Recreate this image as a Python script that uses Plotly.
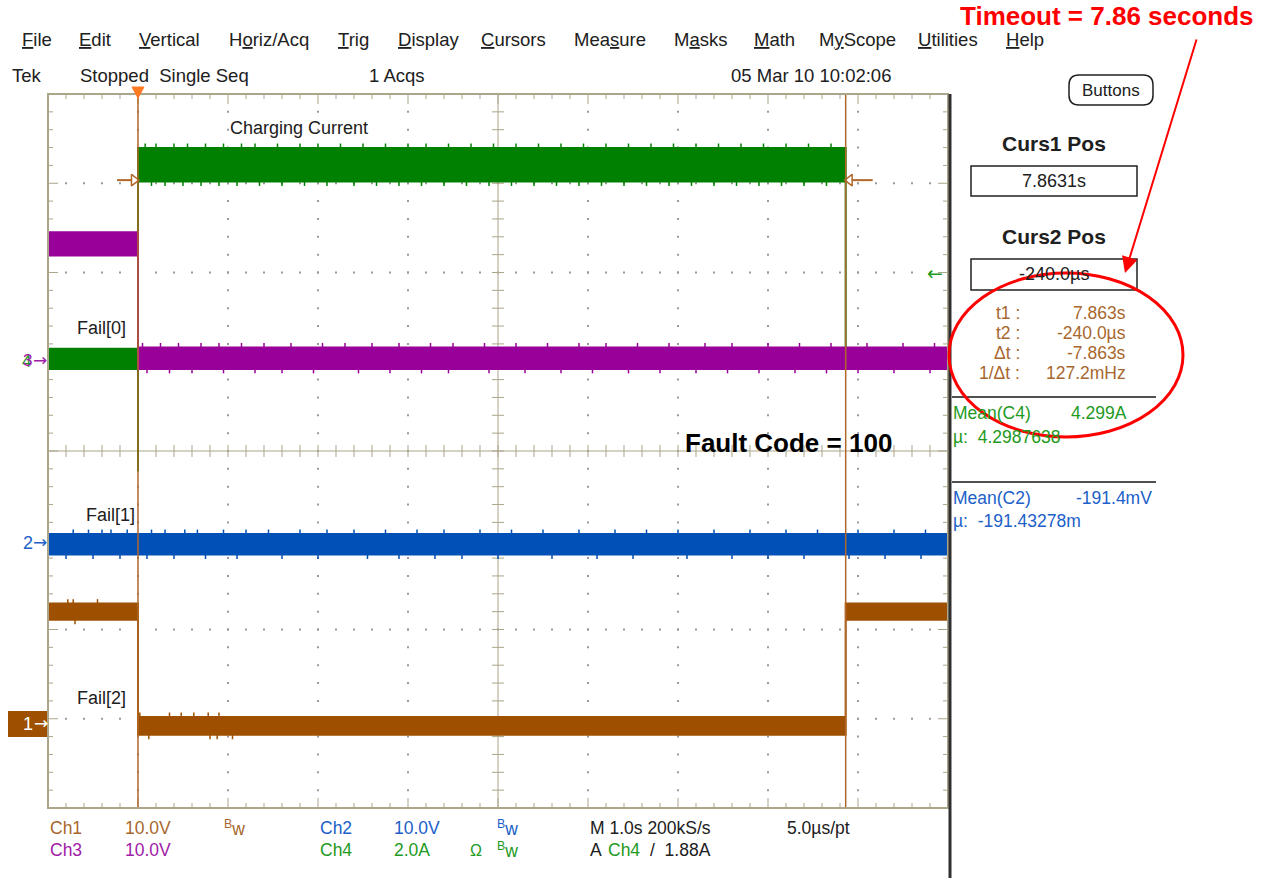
import plotly.graph_objects as go
import numpy as np

# ---------------- data ----------------
time_range = [-1.0, 9.0]            # seconds, M 1.0 s/div, trigger at 1 div
div_range = [-4.0, 4.0]             # vertical divisions
cursor1_t = 7.8631                  # Curs1 Pos
cursor2_t = -0.00024                # Curs2 Pos
trigger_t = 0.0

ch_scale = {"Ch1": 10.0, "Ch2": 10.0, "Ch3": 10.0, "Ch4": 2.0}     # per div
ch_offset = {"Ch1": -3.05, "Ch2": -1.03, "Ch3": 1.02, "Ch4": 1.02}  # ground, div

# Ch1  Fail[2]  (V)
ch1_edges = [-1.0, 0.0, 7.863, 9.0]
ch1_max = [13.4, 0.7, 13.4]
ch1_min = [11.6, -1.3, 11.6]
ch1_spike_top_t = [-0.78, -0.72, -0.45, 0.02, 0.35, 0.48, 0.62, 0.78, 0.9]
ch1_spike_bot_t = [-0.7, 0.12, 0.8, 0.88, 1.05]
ch1_spike = 0.5                     # V
# Ch2  Fail[1]  (V)
ch2_edges = [-1.0, 9.0]
ch2_max = [1.0]
ch2_min = [-1.3]
ch2_spike_top_t = [-0.72, -0.55, -0.4, -0.3, -0.12, 0.15, 0.3, 0.52, 0.66, 0.95, 1.2,
                   1.45, 1.8, 2.1, 2.4, 2.75, 3.1, 3.4, 3.8, 4.15, 4.5, 4.9, 5.3,
                   5.65, 6.0, 6.4, 6.8, 7.2, 7.55, 8.0, 8.4, 8.75]
ch2_spike_bot_t = [-0.8, -0.5, -0.2, 0.1, 0.4, 0.75, 1.1, 1.6, 2.0, 2.55, 2.9, 3.3,
                   3.6, 4.0, 4.6, 5.1, 5.5, 6.1, 6.6, 7.0, 7.4, 7.9, 8.3, 8.7]
ch2_spike = 0.5
# Ch3  Fail[0]  (V)
ch3_edges = [-1.0, 0.0, 9.0]
ch3_max = [14.3, 1.4]
ch3_min = [11.7, -1.0]
ch3_spike_top_t = [0.05, 0.25, 0.45, 0.7, 0.9, 1.15, 1.4, 1.7, 2.05, 2.3, 2.6, 2.9,
                   3.25, 3.5, 3.85, 4.2, 4.55, 4.9, 5.2, 5.55, 5.9, 6.3, 6.6, 7.0,
                   7.35, 7.7, 8.1, 8.5, 8.85]
ch3_spike_bot_t = [0.1, 0.35, 0.6, 0.95, 1.3, 1.6, 1.95, 2.45, 2.8, 3.15, 3.45, 3.9,
                   4.3, 4.7, 5.05, 5.45, 5.8, 6.2, 6.55, 6.9, 7.3, 7.65, 8.0, 8.4, 8.8]
ch3_spike = 0.5
# Ch4  Charging Current (A)
ch4_edges = [-1.0, 0.0, 7.863, 9.0]
ch4_max = [0.25, 4.75, 0.25]
ch4_min = [-0.2, 4.0, -0.2]
ch4_spike_top_t = [0.08, 0.2, 0.4, 0.55, 0.75, 0.95, 1.15, 1.3, 1.55, 1.8, 2.0, 2.25,
                   2.5, 2.75, 3.0, 3.2, 3.45, 3.7, 3.95, 4.2, 4.45, 4.7, 4.95, 5.2,
                   5.45, 5.7, 5.95, 6.2, 6.45, 6.7, 6.95, 7.2, 7.45, 7.7]
ch4_spike_bot_t = [0.15, 0.3, 0.5, 0.7, 0.9, 1.1, 1.35, 1.6, 1.85, 2.1, 2.4, 2.65,
                   2.9, 3.15, 3.4, 3.65, 3.9, 4.15, 4.4, 4.65, 4.9, 5.15, 5.4, 5.65,
                   5.9, 6.15, 6.4, 6.65, 6.9, 7.15, 7.4, 7.65]
ch4_spike = 0.1                     # A
ch4_glitch_t = 0.0
ch4_glitch_lo = -2.5
ch4_glitch_hi = 4.4
cursor_mark_level = 4.03            # A, where cursor markers sit on Ch4

# ---------------- styling ----------------
BROWN = "#9e5000"
BROWN_TXT = "#a8672e"
PURPLE = "#990099"
PURPLE_TXT = "#a020a8"
BLUE = "#0050b8"
BLUE_TXT = "#2060c8"
GREEN = "#008000"
GREEN_TXT = "#1e9a1e"
GRID = "#aba58a"
DOT = "#9a9a9a"
UI = "Liberation Sans, Arial, sans-serif"
BOLDF = "Liberation Sans, Arial, sans-serif"
SYM = "DejaVu Sans, sans-serif"

L, T, W, H = 48, 94, 900, 714
XPD = W / (time_range[1] - time_range[0])   # px per second
YPD = H / (div_range[1] - div_range[0])     # px per div


def PX(x):
    return (x - L) / W


def PY(y):
    return (T + H - y) / H


def to_div(v, ch):
    return v / ch_scale[ch] + ch_offset[ch]


def band(edges, mx, mn, ch):
    xs, ys = [], []
    for i in range(len(mx)):
        xs += [edges[i], edges[i + 1]]
        ys += [to_div(mx[i], ch)] * 2
    lx, ly = [], []
    for i in range(len(mn)):
        lx += [edges[i], edges[i + 1]]
        ly += [to_div(mn[i], ch)] * 2
    return xs + lx[::-1] + [xs[0]], ys + ly[::-1] + [ys[0]]


def level_at(t, edges, vals):
    for i in range(len(vals)):
        if edges[i] <= t <= edges[i + 1]:
            return vals[i]
    return vals[-1]


fig = go.Figure()

# ---------------- graticule ----------------
gx, gy = [], []
minor_x = np.round(np.arange(time_range[0], time_range[1] + 1e-9, 0.2), 3)
minor_y = np.round(np.arange(div_range[0], div_range[1] + 1e-9, 0.2), 3)
cx = (time_range[0] + time_range[1]) / 2
for xv in range(int(time_range[0]) + 1, int(time_range[1])):
    if abs(xv - cx) < 1e-9:
        continue
    for yv in minor_y[1:-1]:
        gx.append(xv); gy.append(yv)
for yv in range(int(div_range[0]) + 1, int(div_range[1])):
    if yv == 0:
        continue
    for xv in minor_x[1:-1]:
        gx.append(xv); gy.append(yv)
fig.add_trace(go.Scatter(x=gx, y=gy, mode="markers", hoverinfo="skip",
                         marker=dict(symbol="square", size=2, color=DOT),
                         showlegend=False))

tx, ty = [], []
tx += [time_range[0], time_range[1], None, cx, cx, None]
ty += [0, 0, None, div_range[0], div_range[1], None]
tl_x = 6 / XPD
tl_y = 6 / YPD
for xv in minor_x:
    tx += [xv, xv, None]; ty += [-tl_y, tl_y, None]
for yv in minor_y:
    tx += [cx - tl_x, cx + tl_x, None]; ty += [yv, yv, None]
for xv in minor_x:
    major = abs(xv - round(xv)) < 1e-6
    ln = (10 if major else 5) / YPD
    tx += [xv, xv, None, xv, xv, None]
    ty += [div_range[1], div_range[1] - ln, None, div_range[0], div_range[0] + ln, None]
for yv in minor_y:
    major = abs(yv - round(yv)) < 1e-6
    ln = (10 if major else 5) / XPD
    tx += [time_range[0], time_range[0] + ln, None, time_range[1], time_range[1] - ln, None]
    ty += [yv, yv, None, yv, yv, None]
fig.add_trace(go.Scatter(x=tx, y=ty, mode="lines", hoverinfo="skip",
                         line=dict(color=GRID, width=1), showlegend=False))


# ---------------- waveforms ----------------
def add_band(edges, mx, mn, ch, color, top_t, bot_t, spike):
    bx, by = band(edges, mx, mn, ch)
    fig.add_trace(go.Scatter(x=bx, y=by, mode="lines", fill="toself",
                             fillcolor=color, line=dict(color=color, width=2),
                             hoverinfo="skip", showlegend=False))
    sx, sy = [], []
    for t in top_t:
        v = level_at(t, edges, mx)
        sx += [t, t, None]; sy += [to_div(v, ch), to_div(v + spike, ch), None]
    for t in bot_t:
        v = level_at(t, edges, mn)
        sx += [t, t, None]; sy += [to_div(v, ch), to_div(v - spike, ch), None]
    fig.add_trace(go.Scatter(x=sx, y=sy, mode="lines", line=dict(color=color, width=1.5),
                             hoverinfo="skip", showlegend=False))


add_band(ch1_edges, ch1_max, ch1_min, "Ch1", BROWN, ch1_spike_top_t, ch1_spike_bot_t, ch1_spike)
add_band(ch2_edges, ch2_max, ch2_min, "Ch2", BLUE, ch2_spike_top_t, ch2_spike_bot_t, ch2_spike)
add_band(ch4_edges, ch4_max, ch4_min, "Ch4", GREEN, ch4_spike_top_t, ch4_spike_bot_t, ch4_spike)
fig.add_trace(go.Scatter(x=[ch4_glitch_t, ch4_glitch_t],
                         y=[to_div(ch4_glitch_lo, "Ch4"), to_div(ch4_glitch_hi, "Ch4")],
                         mode="lines", line=dict(color=GREEN, width=2),
                         hoverinfo="skip", showlegend=False))
add_band(ch3_edges, ch3_max, ch3_min, "Ch3", PURPLE, ch3_spike_top_t, ch3_spike_bot_t, ch3_spike)

# ---------------- cursors ----------------
CUR = "#b0682a"
for ct in (cursor1_t, cursor2_t):
    fig.add_trace(go.Scatter(x=[ct, ct], y=div_range, mode="lines",
                             line=dict(color=CUR, width=1.5),
                             hoverinfo="skip", showlegend=False))
my = to_div(cursor_mark_level, "Ch4")
fig.add_trace(go.Scatter(x=[cursor2_t - 21 / XPD, cursor2_t - 6 / XPD], y=[my, my],
                         mode="lines", line=dict(color=CUR, width=2),
                         hoverinfo="skip", showlegend=False))
fig.add_trace(go.Scatter(x=[cursor1_t + 6 / XPD, cursor1_t + 27 / XPD], y=[my, my],
                         mode="lines", line=dict(color=CUR, width=2),
                         hoverinfo="skip", showlegend=False))
fig.add_trace(go.Scatter(x=[cursor2_t - 4 / XPD, cursor1_t + 4 / XPD], y=[my, my],
                         mode="markers", cliponaxis=False,
                         marker=dict(symbol=["triangle-right-open", "triangle-left-open"],
                                     size=10, color=CUR, line=dict(width=1.5)),
                         hoverinfo="skip", showlegend=False))

# ---------------- text ----------------
ann = []


def text(s, x, y, color="#202020", size=17.5, anchor="left", family=UI, bold=False):
    if bold:
        s = "<b>" + s + "</b>"
    ann.append(dict(text=s, x=PX(x), y=PY(y), xref="paper", yref="paper",
                    xanchor=anchor, yanchor="middle", showarrow=False,
                    font=dict(color=color, size=size, family=family)))


menu = [("<u>F</u>ile", 20), ("<u>E</u>dit", 77), ("<u>V</u>ertical", 137),
        ("H<u>o</u>riz/Acq", 227), ("<u>T</u>rig", 336), ("<u>D</u>isplay", 396),
        ("<u>C</u>ursors", 479), ("Mea<u>s</u>ure", 572), ("M<u>a</u>sks", 672),
        ("<u>M</u>ath", 752), ("M<u>y</u>Scope", 817), ("<u>U</u>tilities", 916),
        ("<u>H</u>elp", 1004)]
for s, x in menu:
    text(s, x, 39, size=18.5)

text("Tek", 10, 75, size=18.5)
text("Stopped  Single Seq", 78, 75, size=18.5)
text("1 Acqs", 367, 75, size=18.5)
text("05 Mar 10 10:02:06", 893, 75, size=18.5, anchor="right")
text("Buttons", 1111, 90, size=17, anchor="center")

text("Timeout = 7.86 seconds", 1256, 16, color="#ff0000", size=26,
     anchor="right", family=BOLDF, bold=True)

text("Curs1 Pos", 1054, 143, size=21, anchor="center", family=BOLDF, bold=True)
text("7.8631s", 1054, 181, size=18, anchor="center")
text("Curs2 Pos", 1054, 237, size=21, anchor="center", family=BOLDF, bold=True)
text("-240.0µs", 1054, 274, size=18, anchor="center")

for lab, val, y in [("t1 :", "7.863s", 313), ("t2 :", "-240.0µs", 333),
                    ("Δt :", "-7.863s", 353), ("1/Δt :", "127.2mHz", 373)]:
    text(lab, 1022, y, color=BROWN_TXT, size=17.5, anchor="right")
    text(val, 1128, y, color=BROWN_TXT, size=17.5, anchor="right")

text("Mean(C4)", 951, 413, color=GREEN_TXT)
text("4.299A", 1129, 413, color=GREEN_TXT, anchor="right")
text("µ:  4.2987638", 951, 437, color=GREEN_TXT)
text("Mean(C2)", 951, 498, color=BLUE_TXT)
text("-191.4mV", 1154, 498, color=BLUE_TXT, anchor="right")
text("µ:  -191.43278m", 951, 521, color=BLUE_TXT)

text("Charging Current", 228, 128, size=18)
text("Fail[0]", 75, 328, size=18)
text("Fail[1]", 84, 515, size=18)
text("Fail[2]", 75, 698, size=18)
text("Fault Code = 100", 683, 443, color="#000000", size=26,
     family=BOLDF, bold=True)

# channel ground markers
text("4", 20, 361, color=GREEN_TXT, size=17)
text("3", 21, 360, color=PURPLE_TXT, size=17)
text("→", 31, 360, color=PURPLE_TXT, size=17, family=SYM)
text("2", 21, 543, color=BLUE_TXT, size=18)
text("→", 31, 542, color=BLUE_TXT, size=17, family=SYM)
text("1", 21, 724, color="#ffffff", size=18)
text("→", 32, 723, color="#ffffff", size=17, family=SYM)
text("←", 935, 273, color=GREEN_TXT, size=19, anchor="center", family=SYM)

# bottom readout
text("Ch1", 48, 828, color=BROWN_TXT)
text("10.0V", 123, 828, color=BROWN_TXT)
text("<sup>B</sup>w", 222, 828, color=BROWN_TXT)
text("Ch2", 318, 828, color=BLUE_TXT)
text("10.0V", 392, 828, color=BLUE_TXT)
text("<sup>B</sup>w", 495, 828, color=BLUE_TXT)
text("M 1.0s 200kS/s", 588, 828)
text("5.0µs/pt", 785, 828)
text("Ch3", 48, 850, color=PURPLE_TXT)
text("10.0V", 123, 850, color=PURPLE_TXT)
text("Ch4", 318, 850, color=GREEN_TXT)
text("2.0A", 392, 850, color=GREEN_TXT)
text("Ω", 468, 850, color=GREEN_TXT, size=16)
text("<sup>B</sup>w", 495, 850, color=GREEN_TXT)
text("A", 588, 850)
text("Ch4", 606, 850, color=GREEN_TXT)
text("/  1.88A", 648, 850)

# red arrow
ann.append(dict(x=PX(1125), y=PY(273), xref="paper", yref="paper", text="",
                showarrow=True, ax=1197 - 1125, ay=38 - 273, axref="pixel", ayref="pixel",
                arrowhead=2, arrowsize=1.6, arrowwidth=2, arrowcolor="#ff0000"))

shapes = []
shapes.append(dict(type="rect", xref="paper", yref="paper", x0=0, x1=1, y0=0, y1=1,
                   line=dict(color=GRID, width=2)))
shapes.append(dict(type="line", xref="paper", yref="paper", x0=PX(950), x1=PX(950),
                   y0=PY(94), y1=PY(878), line=dict(color="#303030", width=3)))
for y0, y1 in [(166, 196), (259, 290)]:
    shapes.append(dict(type="rect", xref="paper", yref="paper", x0=PX(971), x1=PX(1137),
                       y0=PY(y1), y1=PY(y0), line=dict(color="#202020", width=1.5)))
for yy in (397, 482):
    shapes.append(dict(type="line", xref="paper", yref="paper", x0=PX(952), x1=PX(1156),
                       y0=PY(yy), y1=PY(yy), line=dict(color="#505050", width=2)))
bx0, bx1, by0, by1, r = 1069, 1153, 75, 105, 10
path = (f"M {PX(bx0 + r)},{PY(by0)} L {PX(bx1 - r)},{PY(by0)} "
        f"Q {PX(bx1)},{PY(by0)} {PX(bx1)},{PY(by0 + r)} L {PX(bx1)},{PY(by1 - r)} "
        f"Q {PX(bx1)},{PY(by1)} {PX(bx1 - r)},{PY(by1)} L {PX(bx0 + r)},{PY(by1)} "
        f"Q {PX(bx0)},{PY(by1)} {PX(bx0)},{PY(by1 - r)} L {PX(bx0)},{PY(by0 + r)} "
        f"Q {PX(bx0)},{PY(by0)} {PX(bx0 + r)},{PY(by0)} Z")
shapes.append(dict(type="path", xref="paper", yref="paper", path=path,
                   line=dict(color="#202020", width=1.5)))
shapes.append(dict(type="rect", xref="paper", yref="paper", x0=PX(8), x1=PX(47),
                   y0=PY(737), y1=PY(711), fillcolor=BROWN, line=dict(width=0),
                   layer="below"))
shapes.append(dict(type="circle", xref="paper", yref="paper", x0=PX(949), x1=PX(1183),
                   y0=PY(437), y1=PY(273), line=dict(color="#ff0000", width=3)))
# trigger position marker (orange triangle on the top edge), x in data units
shapes.append(dict(type="path", xref="x", yref="paper",
                   path=(f"M {trigger_t - 6 / XPD},{PY(87)} L {trigger_t + 6 / XPD},{PY(87)} "
                         f"L {trigger_t},{PY(98)} Z"),
                   fillcolor="#ff7a22", line=dict(color="#ff7a22", width=1)))

fig.update_layout(
    width=1270, height=878,
    margin=dict(l=L, r=1270 - L - W, t=T, b=878 - T - H, pad=0),
    paper_bgcolor="white", plot_bgcolor="white",
    xaxis=dict(range=time_range, visible=False, fixedrange=True),
    yaxis=dict(range=div_range, visible=False, fixedrange=True),
    showlegend=False, annotations=ann, shapes=shapes,
)
fig.write_html("out.html", config={"displayModeBar": False})
